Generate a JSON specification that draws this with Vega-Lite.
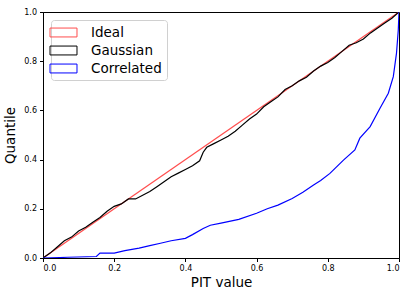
{
  "$schema": "https://vega.github.io/schema/vega-lite/v6.json",
  "autosize": "none",
  "padding": {"left": 43, "top": 12, "right": 16, "bottom": 39},
  "width": 356,
  "height": 246,
  "background": "white",
  "config": {
    "view": {"stroke": "black", "strokeWidth": 1},
    "font": "DejaVu Sans",
    "axis": {
      "domainColor": "black", "tickColor": "black", "tickSize": 3.5,
      "labelFont": "DejaVu Sans", "labelFontSize": 8, "labelColor": "black",
      "titleFont": "DejaVu Sans", "titleFontSize": 13.5, "titleFontWeight": "normal", "titleColor": "black",
      "grid": false
    }
  },
  "datasets": {
    "lines": [
      {"series": "Ideal", "x": 0, "y": 0},
      {"series": "Ideal", "x": 1, "y": 1},
      {"series": "Gaussian", "x": 0, "y": 0},
      {"series": "Gaussian", "x": 0.02, "y": 0.02},
      {"series": "Gaussian", "x": 0.04, "y": 0.045},
      {"series": "Gaussian", "x": 0.06, "y": 0.07},
      {"series": "Gaussian", "x": 0.08, "y": 0.085},
      {"series": "Gaussian", "x": 0.1, "y": 0.11},
      {"series": "Gaussian", "x": 0.12, "y": 0.125},
      {"series": "Gaussian", "x": 0.14, "y": 0.145},
      {"series": "Gaussian", "x": 0.16, "y": 0.165},
      {"series": "Gaussian", "x": 0.18, "y": 0.19},
      {"series": "Gaussian", "x": 0.2, "y": 0.21},
      {"series": "Gaussian", "x": 0.22, "y": 0.22},
      {"series": "Gaussian", "x": 0.24, "y": 0.24},
      {"series": "Gaussian", "x": 0.26, "y": 0.24},
      {"series": "Gaussian", "x": 0.28, "y": 0.255},
      {"series": "Gaussian", "x": 0.3, "y": 0.27},
      {"series": "Gaussian", "x": 0.32, "y": 0.29},
      {"series": "Gaussian", "x": 0.34, "y": 0.31},
      {"series": "Gaussian", "x": 0.36, "y": 0.33},
      {"series": "Gaussian", "x": 0.38, "y": 0.345},
      {"series": "Gaussian", "x": 0.4, "y": 0.36},
      {"series": "Gaussian", "x": 0.42, "y": 0.375},
      {"series": "Gaussian", "x": 0.44, "y": 0.395},
      {"series": "Gaussian", "x": 0.45, "y": 0.43},
      {"series": "Gaussian", "x": 0.46, "y": 0.45},
      {"series": "Gaussian", "x": 0.48, "y": 0.465},
      {"series": "Gaussian", "x": 0.5, "y": 0.48},
      {"series": "Gaussian", "x": 0.52, "y": 0.495},
      {"series": "Gaussian", "x": 0.54, "y": 0.515},
      {"series": "Gaussian", "x": 0.56, "y": 0.54},
      {"series": "Gaussian", "x": 0.58, "y": 0.565},
      {"series": "Gaussian", "x": 0.6, "y": 0.585},
      {"series": "Gaussian", "x": 0.62, "y": 0.615},
      {"series": "Gaussian", "x": 0.64, "y": 0.635},
      {"series": "Gaussian", "x": 0.66, "y": 0.655},
      {"series": "Gaussian", "x": 0.68, "y": 0.685},
      {"series": "Gaussian", "x": 0.7, "y": 0.7},
      {"series": "Gaussian", "x": 0.72, "y": 0.72},
      {"series": "Gaussian", "x": 0.74, "y": 0.735},
      {"series": "Gaussian", "x": 0.76, "y": 0.76},
      {"series": "Gaussian", "x": 0.78, "y": 0.78},
      {"series": "Gaussian", "x": 0.8, "y": 0.795},
      {"series": "Gaussian", "x": 0.82, "y": 0.815},
      {"series": "Gaussian", "x": 0.84, "y": 0.84},
      {"series": "Gaussian", "x": 0.86, "y": 0.865},
      {"series": "Gaussian", "x": 0.88, "y": 0.875},
      {"series": "Gaussian", "x": 0.9, "y": 0.89},
      {"series": "Gaussian", "x": 0.92, "y": 0.915},
      {"series": "Gaussian", "x": 0.94, "y": 0.935},
      {"series": "Gaussian", "x": 0.96, "y": 0.955},
      {"series": "Gaussian", "x": 0.98, "y": 0.975},
      {"series": "Gaussian", "x": 1, "y": 1},
      {"series": "Correlated", "x": 0, "y": 0},
      {"series": "Correlated", "x": 0.07, "y": 0.003},
      {"series": "Correlated", "x": 0.15, "y": 0.006},
      {"series": "Correlated", "x": 0.16, "y": 0.02},
      {"series": "Correlated", "x": 0.2, "y": 0.02},
      {"series": "Correlated", "x": 0.23, "y": 0.03},
      {"series": "Correlated", "x": 0.27, "y": 0.04},
      {"series": "Correlated", "x": 0.3, "y": 0.05},
      {"series": "Correlated", "x": 0.33, "y": 0.06},
      {"series": "Correlated", "x": 0.36, "y": 0.07},
      {"series": "Correlated", "x": 0.4, "y": 0.08},
      {"series": "Correlated", "x": 0.42, "y": 0.095},
      {"series": "Correlated", "x": 0.45, "y": 0.12},
      {"series": "Correlated", "x": 0.47, "y": 0.133},
      {"series": "Correlated", "x": 0.5, "y": 0.142},
      {"series": "Correlated", "x": 0.55, "y": 0.157},
      {"series": "Correlated", "x": 0.6, "y": 0.182},
      {"series": "Correlated", "x": 0.63, "y": 0.2},
      {"series": "Correlated", "x": 0.66, "y": 0.215},
      {"series": "Correlated", "x": 0.7, "y": 0.242},
      {"series": "Correlated", "x": 0.73, "y": 0.267},
      {"series": "Correlated", "x": 0.76, "y": 0.297},
      {"series": "Correlated", "x": 0.78, "y": 0.315},
      {"series": "Correlated", "x": 0.806, "y": 0.344},
      {"series": "Correlated", "x": 0.844, "y": 0.398},
      {"series": "Correlated", "x": 0.876, "y": 0.439},
      {"series": "Correlated", "x": 0.89, "y": 0.487},
      {"series": "Correlated", "x": 0.919, "y": 0.534},
      {"series": "Correlated", "x": 0.947, "y": 0.61},
      {"series": "Correlated", "x": 0.97, "y": 0.67},
      {"series": "Correlated", "x": 0.984, "y": 0.737},
      {"series": "Correlated", "x": 0.993, "y": 0.833},
      {"series": "Correlated", "x": 0.998, "y": 0.927},
      {"series": "Correlated", "x": 1, "y": 1}
    ]
  },
  "data": {"name": "lines"},
  "mark": {"type": "line", "strokeWidth": 1.2, "clip": true},
  "encoding": {
    "x": {
      "field": "x", "type": "quantitative", "title": "PIT value",
      "scale": {"domain": [0, 1], "nice": false, "zero": false},
      "axis": {"values": [0, 0.2, 0.4, 0.6, 0.8, 1], "format": ".1f", "labelPadding": 3, "titlePadding": 3}
    },
    "y": {
      "field": "y", "type": "quantitative", "title": "Quantile",
      "scale": {"domain": [0, 1], "nice": false, "zero": false},
      "axis": {"values": [0, 0.2, 0.4, 0.6, 0.8, 1], "format": ".1f", "labelPadding": 3, "titlePadding": 6}
    },
    "color": {
      "field": "series", "type": "nominal",
      "scale": {"domain": ["Ideal", "Gaussian", "Correlated"], "range": ["#ff4d4d", "black", "blue"]},
      "legend": {
        "title": null,
        "orient": "top-left",
        "offset": 8,
        "symbolType": "M-2,-0.66H2V0.66H-2Z",
        "symbolSize": 182,
        "symbolStrokeWidth": 1,
        "labelFont": "DejaVu Sans",
        "labelFontSize": 13.5,
        "labelColor": "black",
        "labelOffset": 20,
        "rowPadding": 4,
        "padding": 5,
        "fillColor": "rgba(255,255,255,0.8)",
        "strokeColor": "#d0d0d0",
        "cornerRadius": 3
      }
    },
    "detail": {"field": "series"}
  }
}
